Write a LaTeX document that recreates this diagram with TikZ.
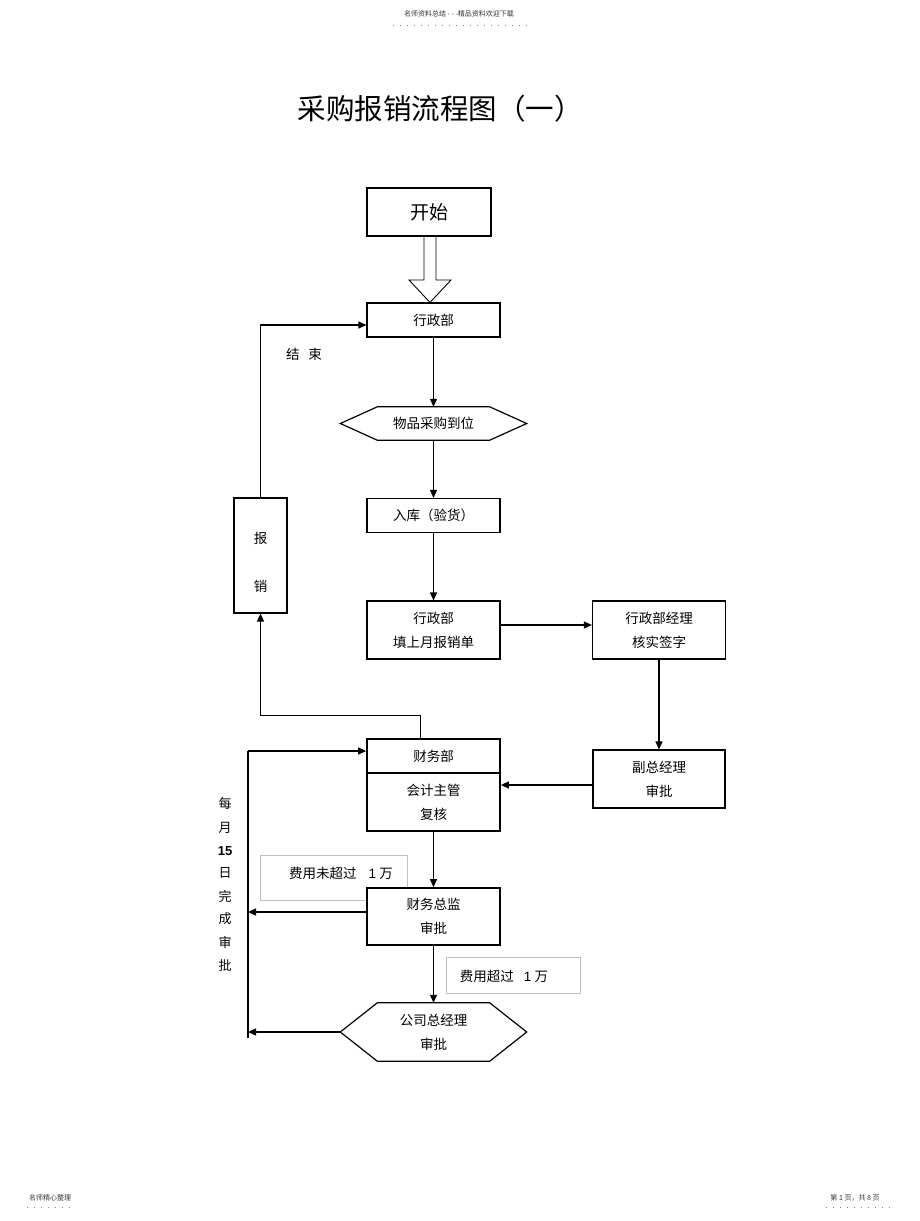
\documentclass[tikz,border=0pt]{standalone}
\usepackage{fontspec}
\setmainfont{Noto Sans CJK SC}
\newfontfamily\arialf{Liberation Sans}
\usetikzlibrary{arrows.meta,calc}
\begin{document}
\begin{tikzpicture}[x=1pt,y=-1pt,
  every node/.style={font=\fontsize{13.5}{24}\selectfont, text=black},
  box/.style={draw, line width=1.1pt, fill=white, minimum width=133pt, inner sep=0pt, align=center},
  thickbox/.style={box, line width=1.7pt},
  gbox/.style={draw=gray!50, line width=0.8pt, inner sep=0pt},
  arr/.style={line width=1.2pt, -{Triangle[length=8pt,width=7pt]}},
  ln/.style={line width=1.2pt},
  small/.style={font=\fontsize{7}{8}\selectfont, text=black!80},
  side/.style={font=\fontsize{13}{14}\selectfont}]
\useasboundingbox (0,0) rectangle (920,1221);
% header / footer
\node[small] (hdr) at (459,14) {名师资料总结 - - -精品资料欢迎下载};
\draw[gray, line width=0.8pt, dash pattern=on 1pt off 6pt] (393,25) -- (527,25);
\node[small] (ftl) at (50,1198) {名师精心整理};
\draw[gray, line width=0.8pt, dash pattern=on 1pt off 6pt] (27,1207) -- (75,1207);
\node[small] (ftr) at (855,1198) {第 1 页，共 8 页};
\draw[gray, line width=0.8pt, dash pattern=on 1pt off 6pt] (826,1207) -- (893,1207);
% title
\node[font=\fontsize{28.5}{30}\selectfont] (title) at (440,109) {采购报销流程图（一）};
% start
\node[box, minimum width=124pt, minimum height=48pt, font=\fontsize{19}{20}\selectfont] (start) at (429,212) {开始};
% boxes
\node[box, minimum height=34pt] (b1) at (433.5,320) {行政部};
\node[minimum width=186pt, minimum height=33pt, inner sep=0pt] (hx1) at (433.5,423.5) {物品采购到位};
\draw[ln] (hx1.west) -- ($(hx1.north west)+(37,0)$) -- ($(hx1.north east)+(-37,0)$) -- (hx1.east) -- ($(hx1.south east)+(-37,0)$) -- ($(hx1.south west)+(37,0)$) -- cycle;
\node[box, minimum height=34pt] (rk) at (433.5,515.5) {入库（验货）};
\node[box, minimum height=58pt] (tb) at (433.5,630) {行政部\\填上月报销单};
\node[box, minimum height=58pt] (mgr) at (659,630) {行政部经理\\核实签字};
\node[box, minimum width=132pt, minimum height=58pt] (fz) at (659,779) {副总经理\\审批};
\node[thickbox, minimum height=34pt] (cw) at (433.5,756) {财务部};
\node[thickbox, minimum height=58pt] (kj) at (433.5,802) {会计主管\\复核};
\node[box, minimum width=53pt, minimum height=115pt] (bx) at (260.5,555.5) {};
\node (bx1) at (260.5,538) {报};
\node (bx2) at (260.5,586) {销};
\node (js) at (304,354) {结\hspace{9pt}束};
% gray notes
\node[gbox, minimum width=147pt, minimum height=45pt] (nb1) at (333.5,877.5) {};
\node (nt1) at (341,873) {费用未超过\hspace{12pt}{\arialf 1} 万};
\node[thickbox, minimum height=57pt] (zj) at (433.5,916.5) {财务总监\\审批};
\node[gbox, minimum width=134pt, minimum height=36pt] (nb2) at (513,975) {};
\node (nt2) at (504,976) {费用超过\hspace{10pt}{\arialf 1} 万};
\node[minimum width=186pt, minimum height=58pt, inner sep=0pt, align=center] (hx2) at (433.5,1032) {公司总经理\\审批};
\draw[ln] (hx2.west) -- ($(hx2.north west)+(37,0)$) -- ($(hx2.north east)+(-37,0)$) -- (hx2.east) -- ($(hx2.south east)+(-37,0)$) -- ($(hx2.south west)+(37,0)$) -- cycle;
% side text
\node[side] (s1) at (225,804) {每};
\node[side] (s2) at (225,828) {月};
\node[side, font=\arialf\bfseries\fontsize{13}{14}\selectfont] (s3) at (225,851) {15};
\node[side] (s4) at (225,873) {日};
\node[side] (s5) at (225,896) {完};
\node[side] (s6) at (225,919) {成};
\node[side] (s7) at (225,942) {审};
\node[side] (s8) at (225,965) {批};
% hollow arrow
\draw[line width=0.9pt] ([xshift=-5pt]start.south) -- ([xshift=-5pt]start.south |- 0,280) -- ([xshift=-20pt]start.south |- 0,280) -- ([xshift=1pt]start.south |- b1.north) -- ([xshift=22pt]start.south |- 0,280) -- ([xshift=7pt]start.south |- 0,280) -- ([xshift=7pt]start.south);
% connectors
\draw[arr] (b1.south) -- (hx1.north);
\draw[arr] (hx1.south) -- (rk.north);
\draw[arr] (rk.south) -- (tb.north);
\draw[arr] ([yshift=5pt]tb.east) -- ([yshift=5pt]tb.east -| mgr.west);
\draw[arr] (mgr.south) -- (fz.north);
\draw[arr] ([yshift=-6pt]fz.west) -- ([yshift=-6pt]fz.west -| kj.east);
\draw[arr] ([xshift=-13pt]cw.north) -- ++(0,-23) -| (bx.south);
\draw[arr] (bx.north) |- ([yshift=-5pt]b1.west);
\draw[arr] (kj.south) -- (zj.north);
\draw[arr] (zj.south) -- (hx2.north);
\coordinate (vtop) at (248,751);
\coordinate (vbot) at (248,1038);
\draw[ln] (vbot) -- (vtop);
\draw[arr] (vtop) -- (vtop -| cw.west);
\draw[arr] ([yshift=4.5pt]zj.west) -- ([yshift=4.5pt]zj.west -| vtop);
\draw[arr] (hx2.west) -- (hx2.west -| vtop);
\end{tikzpicture}
\end{document}
